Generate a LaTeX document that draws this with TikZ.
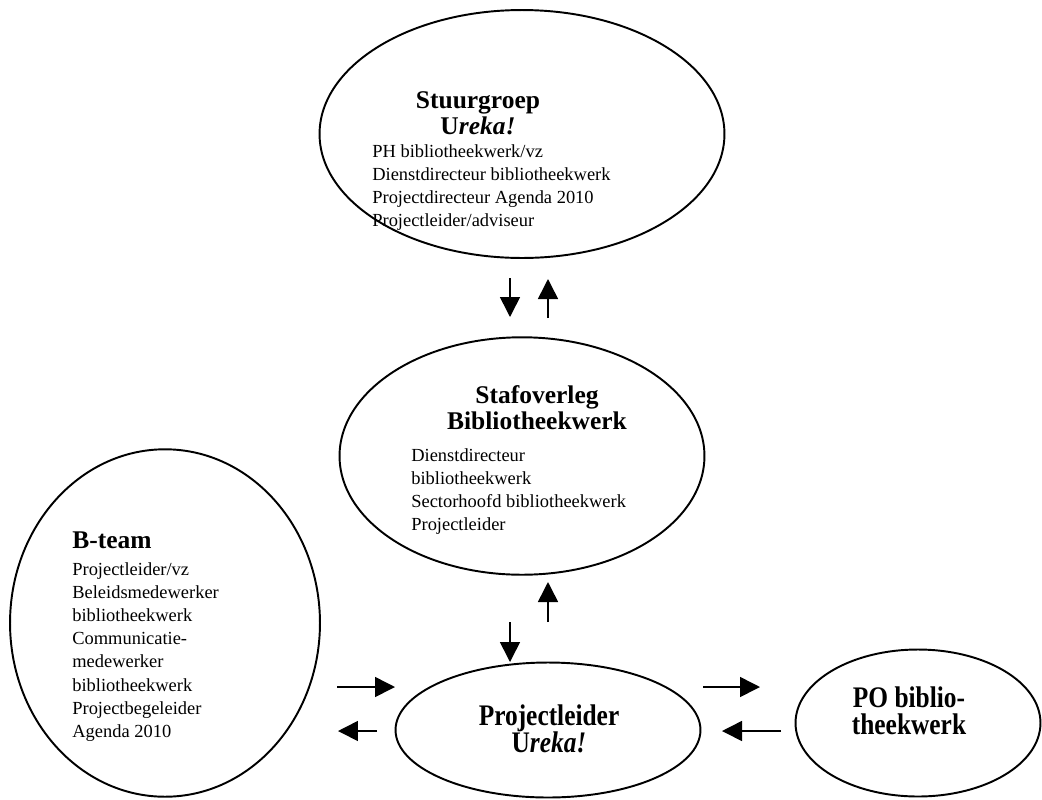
\documentclass[tikz,border=0pt]{standalone}
\usepackage{fontspec}
\setmainfont{Liberation Serif}
\newfontfamily\condfont[FakeStretch=0.85]{Liberation Serif}
\usetikzlibrary{shapes.geometric,arrows.meta}
\tikzset{
  ell/.style={draw, ellipse, line width=1.1pt, inner sep=0pt},
  arr/.style={line width=0.9pt, -{Triangle[length=0.4cm,width=0.4cm]}},
  title/.style={font=\fontsize{14.5}{15}\selectfont\bfseries, align=center, inner sep=0pt},
  body/.style={font=\fontsize{10.5}{13.2}\selectfont, align=left, inner sep=0pt},
  ctitle/.style={font=\fontsize{17}{15.5}\selectfont\condfont\bfseries, align=center, inner sep=0pt},
}
\begin{document}
\begin{tikzpicture}[x=0.02cm,y=-0.02cm]
\useasboundingbox (0,0) rectangle (1042,799);
% ellipses
\node[ell, minimum width=8.1cm, minimum height=4.96cm] (stuur) at (522,134) {};
\node[ell, minimum width=7.3cm, minimum height=4.75cm] (staf) at (522,456) {};
\node[ell, minimum width=6.2cm, minimum height=6.95cm] (bteam) at (165,623) {};
\node[ell, minimum width=6.1cm, minimum height=2.7cm] (pl) at (548,730) {};
\node[ell, minimum width=4.9cm, minimum height=2.94cm] (po) at (918,723) {};
% texts
\node[title, anchor=north] (stuurT) at (478,91) {Stuurgroep\\U\textit{reka!}};
\node[body, anchor=north west] (stuurB) at (372,144) {PH bibliotheekwerk/vz\\Dienstdirecteur bibliotheekwerk\\Projectdirecteur Agenda 2010\\Projectleider/adviseur};
\node[title, anchor=north] (stafT) at (537,385) {Stafoverleg\\Bibliotheekwerk};
\node[body, anchor=north west] (stafB) at (411,448) {Dienstdirecteur\\bibliotheekwerk\\Sectorhoofd bibliotheekwerk\\Projectleider};
\node[title, anchor=north west] (btT) at (72,531) {B-team};
\node[body, anchor=north west] (btB) at (72,562) {Projectleider/vz\\Beleidsmedewerker\\bibliotheekwerk\\Communicatie-\\medewerker\\bibliotheekwerk\\Projectbegeleider\\Agenda 2010};
\node[ctitle, anchor=north] (plT) at (549,704) {Projectleider\\U\textit{reka!}};
\node[ctitle, anchor=north] (poT) at (909,686) {PO biblio-\\theekwerk};
% arrow end points
\coordinate (a1s) at (510,278); \coordinate (a1e) at (510,317);
\coordinate (a2s) at (548,318); \coordinate (a2e) at (548,279);
\coordinate (a3s) at (510,622); \coordinate (a3e) at (510,662);
\coordinate (a4s) at (548,622); \coordinate (a4e) at (548,582);
\coordinate (a5s) at (337,687); \coordinate (a5e) at (395,687);
\coordinate (a6s) at (377,731); \coordinate (a6e) at (338,731);
\coordinate (a7s) at (703,687); \coordinate (a7e) at (760,687);
\coordinate (a8s) at (781,731); \coordinate (a8e) at (722,731);
\draw[arr] (a1s) -- (a1e);
\draw[arr] (a2s) -- (a2e);
\draw[arr] (a3s) -- (a3e);
\draw[arr] (a4s) -- (a4e);
\draw[arr] (a5s) -- (a5e);
\draw[arr] (a6s) -- (a6e);
\draw[arr] (a7s) -- (a7e);
\draw[arr] (a8s) -- (a8e);
\end{tikzpicture}
\end{document}
